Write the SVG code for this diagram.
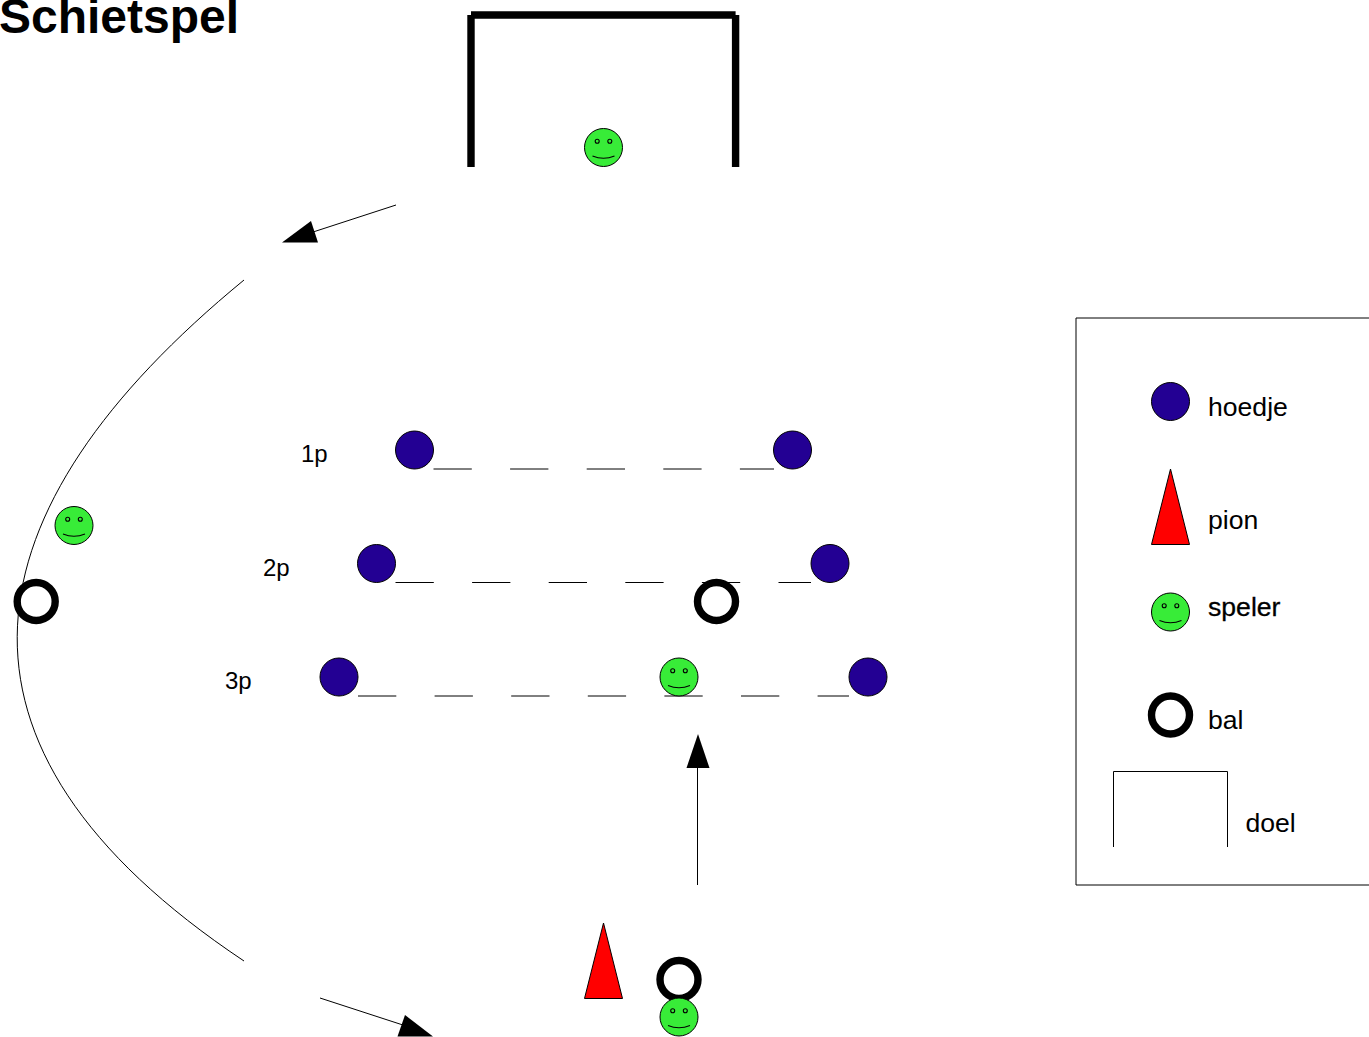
<svg xmlns="http://www.w3.org/2000/svg" xmlns:xlink="http://www.w3.org/1999/xlink" width="1369" height="1037" viewBox="0 0 1369 1037">
<style>
text{font-family:"Liberation Sans",Arial,sans-serif;fill:#000}
.lbl{font-size:24px}
.legend{font-size:26.6px}
.ln{fill:none;stroke:#000;stroke-width:1}
.dash{fill:none;stroke:#000;stroke-width:1;stroke-dasharray:38.3 38.3}
.goal{fill:none;stroke:#000;stroke-width:7.4}
.hat{fill:#230093;stroke:#000;stroke-width:1}
.pawn{fill:#ff0000;stroke:#000;stroke-width:1}
.ball{fill:#fff;stroke:#000;stroke-width:7.4}
.face{fill:#38ec38;stroke:#000;stroke-width:1}
.eye{fill:none;stroke:#000;stroke-width:1.1}
.head{fill:#000}
</style>
<defs>
<g id="smiley">
<circle class="face" cx="0" cy="0" r="19"/>
<circle class="eye" cx="-6.3" cy="-6.3" r="2"/>
<circle class="eye" cx="6.3" cy="-6.3" r="2"/>
<path class="eye" d="M-11 8.500Q0 13 11 8.500"/>
</g>
</defs>
<rect width="1369" height="1037" fill="#fff"/>
<text id="title" x="-1" y="33" font-size="48px" font-weight="bold">Schietspel</text>
<g id="connectors">
<path class="ln" d="M244 280C-36 510-80 745 244 961"/>
<path class="ln" d="M396 205L310 233"/>
<polygon class="head" points="282,242.500 318,242.500 311,221"/>
<path class="ln" d="M320 998L406 1026"/>
<polygon class="head" points="433,1036.500 397.500,1036.500 405,1015"/>
<path class="ln" d="M697.500 885V765"/>
<polygon class="head" points="698,734 686.500,768 709.500,768"/>
<path class="dash" d="M433.500 469H774"/>
<path class="dash" d="M395.500 582.500H811"/>
<path class="dash" d="M358 696H849"/>
</g>
<g id="goal"><path class="goal" d="M471 167V15M735.600 167V15M471 15H735.600"/></g>
<g id="keeper"><use xlink:href="#smiley" x="603.500" y="147.500"/></g>
<g id="hat-1a"><circle class="hat" cx="414.500" cy="450" r="19"/></g>
<g id="hat-1b"><circle class="hat" cx="792.500" cy="450" r="19"/></g>
<g id="hat-2a"><circle class="hat" cx="376.500" cy="563.500" r="19"/></g>
<g id="hat-2b"><circle class="hat" cx="830" cy="563.500" r="19"/></g>
<g id="hat-3a"><circle class="hat" cx="339" cy="677" r="19"/></g>
<g id="hat-3b"><circle class="hat" cx="868" cy="677" r="19"/></g>
<g id="label-1p"><text class="lbl" x="301" y="462.300">1p</text></g>
<g id="label-2p"><text class="lbl" x="263" y="575.700">2p</text></g>
<g id="label-3p"><text class="lbl" x="225" y="689">3p</text></g>
<g id="player-left"><use xlink:href="#smiley" x="74" y="525.500"/></g>
<g id="ball-left"><circle class="ball" cx="36.200" cy="601.500" r="19"/></g>
<g id="ball-mid"><circle class="ball" cx="716.500" cy="601.500" r="19"/></g>
<g id="player-mid"><use xlink:href="#smiley" x="679" y="677"/></g>
<g id="pawn"><polygon class="pawn" points="603.500,923 584.500,998.500 622.500,998.500"/></g>
<g id="ball-bottom"><circle class="ball" cx="679" cy="979.500" r="19"/></g>
<g id="player-bottom"><use xlink:href="#smiley" x="679" y="1017"/></g>
<g id="legend">
<path fill="#fff" stroke="#000" stroke-width="1" d="M1369 318H1076V885H1369"/>
<circle class="hat" cx="1170.500" cy="401.500" r="19"/>
<text class="legend" x="1208" y="416">hoedje</text>
<polygon class="pawn" points="1170.500,469 1151.500,544.500 1189.500,544.500"/>
<text class="legend" x="1208" y="529">pion</text>
<use xlink:href="#smiley" x="1170.500" y="612"/>
<text class="legend" x="1208" y="616" stroke="#000" stroke-width="0.3">speler</text>
<circle class="ball" cx="1170.500" cy="715" r="19"/>
<text class="legend" x="1208" y="729">bal</text>
<path class="ln" d="M1113.500 847V771.500H1227.500V847"/>
<text class="legend" x="1245.500" y="832">doel</text>
</g>
</svg>
